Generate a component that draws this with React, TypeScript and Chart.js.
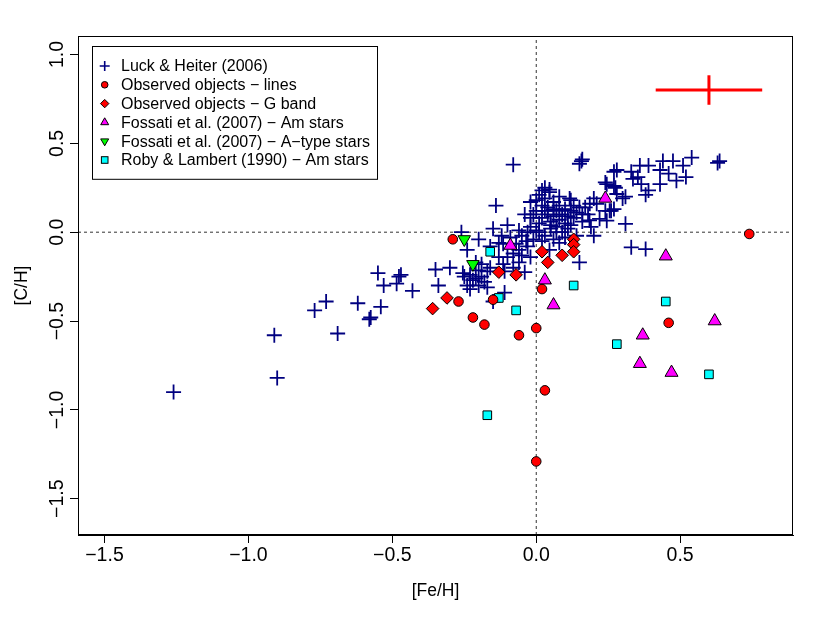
import { useEffect, useRef } from 'react';
import { Chart, registerables } from 'chart.js';

Chart.register(...registerables);

const FONT = "'Liberation Sans', Arial, Helvetica, sans-serif";

// axis settings
const xTicks = [-1.5, -1.0, -0.5, 0.0, 0.5];
const yTicks = [-1.5, -1.0, -0.5, 0.0, 0.5, 1.0];
const xLimits = [-1.592, 0.892];
const yLimits = [-1.704, 1.104];
const xTitle = '[Fe/H]';
const yTitle = '[C/H]';

// Luck & Heiter (2006)  [Fe/H], [C/H]
const luckHeiter: [number, number][] = [
  [-1.26, -0.9], [-0.91, -0.58], [-0.9, -0.82], [-0.77, -0.44], [-0.73, -0.39], [-0.69, -0.57],
  [-0.62, -0.4], [-0.58, -0.49], [-0.575, -0.48], [-0.55, -0.23], [-0.54, -0.42], [-0.53, -0.3],
  [-0.485, -0.29], [-0.477, -0.25], [-0.47, -0.24], [-0.43, -0.33],
  [-0.35, -0.21], [-0.34, -0.3], [-0.3, -0.2], [-0.26, 0.0], [-0.255, -0.23], [-0.24, -0.1],
  [-0.24, -0.3], [-0.23, -0.32], [-0.22, -0.27], [-0.21, -0.17], [-0.2, -0.215], [-0.2, -0.04],
  [-0.25, -0.25], [-0.23, -0.24], [-0.21, -0.26], [-0.19, -0.25], [-0.18, -0.28], [-0.2, -0.3],
  [-0.17, -0.31], [-0.17, -0.22], [-0.16, -0.2], [-0.19, -0.18], [-0.15, -0.39], [-0.11, -0.34],
  [-0.16, -0.08], [-0.15, 0.02], [-0.14, 0.15], [-0.13, -0.14], [-0.13, -0.06], [-0.12, -0.02],
  [-0.115, -0.18], [-0.115, -0.065], [-0.11, -0.22], [-0.1, 0.04], [-0.1, -0.14], [-0.09, -0.03],
  [-0.08, 0.38], [-0.08, -0.12], [-0.08, -0.2], [-0.07, -0.065], [-0.06, 0.01], [-0.06, -0.1],
  [-0.06, -0.17], [-0.05, -0.02], [-0.05, -0.13], [-0.04, -0.225], [-0.04, 0.1], [-0.035, -0.05],
  [-0.03, 0.0], [-0.03, -0.08], [-0.02, 0.17], [-0.02, 0.03], [-0.02, 0.08], [-0.02, -0.14],
  [-0.01, -0.04], [-0.01, 0.1],
  [0.0, 0.01], [0.0, 0.12], [0.0, 0.18], [0.01, 0.21], [0.01, 0.05], [0.01, 0.0], [0.02, 0.235],
  [0.02, 0.08], [0.02, 0.15], [0.02, -0.05], [0.03, 0.25], [0.03, 0.12], [0.03, 0.19], [0.03, -0.02],
  [0.04, 0.1], [0.04, 0.14], [0.046, 0.24], [0.046, 0.225], [0.046, -0.1], [0.05, 0.06], [0.05, 0.02],
  [0.05, 0.04], [0.06, 0.17], [0.06, 0.09], [0.06, 0.13], [0.06, -0.04], [0.07, 0.12], [0.07, 0.03],
  [0.07, 0.0], [0.08, 0.07], [0.08, 0.15], [0.08, 0.2], [0.08, -0.06], [0.09, 0.1], [0.09, 0.0],
  [0.1, 0.05], [0.1, 0.13], [0.1, -0.03], [0.11, 0.09], [0.11, 0.02], [0.116, 0.19], [0.12, 0.18],
  [0.12, 0.12], [0.12, 0.04], [0.13, 0.08], [0.13, 0.15], [0.14, 0.11], [0.14, -0.02], [0.15, 0.14],
  [0.15, -0.17], [0.16, 0.1], [0.16, 0.06], [0.17, 0.14], [0.18, 0.1], [0.185, 0.066], [0.186, 0.16],
  [0.19, 0.03], [0.2, 0.19], [0.2, -0.02], [0.21, 0.16], [0.22, 0.075], [0.24, 0.12], [0.245, 0.065],
  [0.255, 0.12], [0.26, 0.12], [0.27, 0.13],
  [0.15, 0.385], [0.157, 0.4], [0.16, 0.41], [0.24, 0.28], [0.245, 0.27], [0.27, 0.34], [0.27, 0.26],
  [0.275, 0.25], [0.28, 0.35], [0.28, 0.215], [0.3, 0.19], [0.31, 0.2], [0.31, 0.047], [0.33, 0.34],
  [0.33, -0.085], [0.336, 0.3], [0.353, 0.31], [0.36, 0.375], [0.365, 0.27], [0.38, 0.21],
  [0.38, -0.095], [0.39, 0.375], [0.39, 0.235], [0.43, 0.35], [0.43, 0.27], [0.44, 0.4], [0.46, 0.33],
  [0.475, 0.4], [0.487, 0.29], [0.51, 0.375], [0.52, 0.31], [0.54, 0.42], [0.63, 0.39], [0.637, 0.4],
];

// Observed objects - lines
const observedLines: [number, number][] = [
  [-0.29, -0.04], [-0.27, -0.39], [-0.22, -0.48], [-0.18, -0.52], [-0.15, -0.38], [-0.06, -0.58],
  [0.0, -0.54], [0.02, -0.32], [0.03, -0.89], [0.0, -1.29], [0.46, -0.51], [0.74, -0.01],
];

// Observed objects - G band
const observedGBand: [number, number][] = [
  [-0.36, -0.43], [-0.31, -0.37], [-0.13, -0.225], [-0.07, -0.24], [0.02, -0.11], [0.04, -0.17],
  [0.09, -0.13], [0.13, -0.04], [0.13, -0.07], [0.13, -0.11],
];

// Fossati et al. (2007) - Am stars
const fossatiAm: [number, number][] = [
  [-0.09, -0.075], [0.24, 0.19], [0.03, -0.27], [0.06, -0.41], [0.37, -0.58], [0.36, -0.74],
  [0.47, -0.79], [0.62, -0.5], [0.45, -0.135],
];

// Fossati et al. (2007) - A-type stars
const fossatiA: [number, number][] = [
  [-0.25, -0.04], [-0.22, -0.18],
];

// Roby & Lambert (1990) - Am stars
const robyLambert: [number, number][] = [
  [-0.16, -0.11], [0.13, -0.3], [-0.13, -0.37], [-0.07, -0.44], [-0.17, -1.03], [0.28, -0.63],
  [0.45, -0.39], [0.6, -0.8],
];

// typical error bar
const errorCenter = [0.6, 0.8];
const errorHalf = [0.185, 0.083];

const legendLabels = [
  'Luck & Heiter (2006)',
  'Observed objects − lines',
  'Observed objects − G band',
  'Fossati et al. (2007) − Am stars',
  'Fossati et al. (2007) − A−type stars',
  'Roby & Lambert (1990) − Am stars',
];

const toPts = (arr: [number, number][]) => arr.map(([x, y]) => ({ x, y }));

const fmt = (v: number | string) => {
  const n = Number(v);
  return (n < 0 ? '−' : '') + Math.abs(n).toFixed(1);
};

const boxPlugin = {
  id: 'rbox',
  afterDraw(chart: any) {
    const { ctx, chartArea: ca } = chart;
    ctx.save();
    ctx.strokeStyle = '#000';
    ctx.lineWidth = 1;
    ctx.strokeRect(Math.round(ca.left) + 0.5, Math.round(ca.top) + 0.5, Math.round(ca.right - ca.left) - 1, Math.round(ca.bottom - ca.top) - 1);

    // legend
    const lx = Math.round(ca.left) + 14;
    const ly = Math.round(ca.top) + 10;
    ctx.font = `16px ${FONT}`;
    const rowH = 18.8;
    const textX = lx + 29;
    let maxW = 0;
    legendLabels.forEach((t) => { maxW = Math.max(maxW, ctx.measureText(t).width); });
    const w = 29 + maxW + 7;
    const h = rowH * 6 + 20;
    ctx.fillStyle = '#fff';
    ctx.fillRect(lx + 0.5, ly + 0.5, w, h);
    ctx.strokeStyle = '#000';
    ctx.strokeRect(lx + 0.5, ly + 0.5, w, h);
    const sx = lx + 12.7;
    legendLabels.forEach((t, i) => {
      const cy = ly + 20 + i * rowH;
      ctx.fillStyle = '#000';
      ctx.textBaseline = 'middle';
      ctx.textAlign = 'left';
      ctx.fillText(t, textX, cy + 1);
      ctx.lineWidth = 1;
      ctx.strokeStyle = '#000';
      if (i === 0) {
        ctx.strokeStyle = '#000080';
        ctx.lineWidth = 1.6;
        ctx.beginPath();
        ctx.moveTo(sx - 5, cy); ctx.lineTo(sx + 5, cy);
        ctx.moveTo(sx, cy - 5); ctx.lineTo(sx, cy + 5);
        ctx.stroke();
      } else if (i === 1) {
        ctx.fillStyle = '#ff0000';
        ctx.beginPath(); ctx.arc(sx, cy, 3.3, 0, Math.PI * 2); ctx.fill(); ctx.stroke();
      } else if (i === 2) {
        ctx.fillStyle = '#ff0000';
        ctx.beginPath();
        ctx.moveTo(sx, cy - 4.2); ctx.lineTo(sx + 4.2, cy); ctx.lineTo(sx, cy + 4.2); ctx.lineTo(sx - 4.2, cy);
        ctx.closePath(); ctx.fill(); ctx.stroke();
      } else if (i === 3 || i === 4) {
        ctx.fillStyle = i === 3 ? '#ff00ff' : '#00ff00';
        const r = 4.6;
        const d = i === 3 ? 1 : -1;
        ctx.beginPath();
        ctx.moveTo(sx, cy - d * r);
        ctx.lineTo(sx + r * 0.866, cy + d * r * 0.5);
        ctx.lineTo(sx - r * 0.866, cy + d * r * 0.5);
        ctx.closePath(); ctx.fill(); ctx.stroke();
      } else {
        ctx.fillStyle = '#00ffff';
        ctx.fillRect(sx - 3.3, cy - 3.3, 6.6, 6.6);
        ctx.strokeRect(sx - 3.3, cy - 3.3, 6.6, 6.6);
      }
    });
    ctx.restore();
  },
};

export default function App() {
  const ref = useRef<HTMLCanvasElement | null>(null);

  useEffect(() => {
    if (!ref.current) return;
    const filled = (data: [number, number][], style: string, color: string, radius: number, order: number, rotation = 0) => ({
      data: toPts(data),
      pointStyle: style,
      pointRadius: radius,
      pointHoverRadius: radius,
      pointRotation: rotation,
      pointBackgroundColor: color,
      pointBorderColor: '#000',
      pointBorderWidth: 1,
      showLine: false,
      order,
    });

    const chart = new Chart(ref.current, {
      type: 'scatter',
      data: {
        datasets: [
          {
            data: [
              { x: xLimits[0], y: 0 },
              { x: xLimits[1], y: 0 },
            ],
            showLine: true,
            borderColor: '#333',
            borderWidth: 1,
            borderDash: [3, 3],
            pointRadius: 0,
            order: 20,
          } as any,
          {
            data: [
              { x: 0, y: yLimits[0] },
              { x: 0, y: yLimits[1] },
            ],
            showLine: true,
            borderColor: '#333',
            borderWidth: 1,
            borderDash: [3, 3],
            pointRadius: 0,
            order: 19,
          } as any,
          {
            data: toPts(luckHeiter),
            pointStyle: 'cross',
            pointRadius: 7.5,
            pointHoverRadius: 7.5,
            pointBorderColor: '#000080',
            pointBackgroundColor: '#000080',
            pointBorderWidth: 1.8,
            showLine: false,
            order: 10,
          } as any,
          filled(robyLambert, 'rect', '#00ffff', 6.1, 8),
          filled(fossatiA, 'triangle', '#00ff00', 7.2, 7, 180),
          filled(fossatiAm, 'triangle', '#ff00ff', 7.5, 6),
          filled(observedGBand, 'rectRot', '#ff0000', 6.3, 5),
          filled(observedLines, 'circle', '#ff0000', 4.8, 4),
          {
            data: [
              { x: errorCenter[0] - errorHalf[0], y: errorCenter[1] },
              { x: errorCenter[0] + errorHalf[0], y: errorCenter[1] },
            ],
            showLine: true,
            borderColor: '#ff0000',
            borderWidth: 3,
            pointRadius: 0,
            order: 1,
          } as any,
          {
            data: [
              { x: errorCenter[0], y: errorCenter[1] - errorHalf[1] },
              { x: errorCenter[0], y: errorCenter[1] + errorHalf[1] },
            ],
            showLine: true,
            borderColor: '#ff0000',
            borderWidth: 3,
            pointRadius: 0,
            order: 1,
          } as any,
        ],
      },
      options: {
        animation: false,
        responsive: false,
        events: [],
        layout: { padding: { left: 0, right: 37, top: 36, bottom: 0 } },
        plugins: { legend: { display: false }, tooltip: { enabled: false } },
        scales: {
          x: {
            type: 'linear',
            min: xLimits[0],
            max: xLimits[1],
            afterBuildTicks: (s: any) => { s.ticks = xTicks.map((v) => ({ value: v })); },
            afterFit: (s: any) => { s.height = 88; },
            ticks: {
              color: '#000',
              font: { family: FONT, size: 19.5 },
              padding: 1,
              maxRotation: 0,
              autoSkip: false,
              callback: (v: any) => fmt(v),
            },
            grid: { drawOnChartArea: false, drawTicks: true, tickLength: 8, color: '#000' },
            border: { display: true, color: '#000', width: 1 },
            title: {
              display: true,
              text: xTitle,
              color: '#000',
              font: { family: FONT, size: 17.5 },
              padding: { top: 0, bottom: 21 },
            },
          },
          y: {
            type: 'linear',
            min: yLimits[0],
            max: yLimits[1],
            afterBuildTicks: (s: any) => { s.ticks = yTicks.map((v) => ({ value: v })); },
            afterFit: (s: any) => { s.width = 78; },
            ticks: {
              color: '#000',
              font: { family: FONT, size: 19.5 },
              padding: -7,
              minRotation: 90,
              maxRotation: 90,
              crossAlign: 'center',
              autoSkip: false,
              callback: (v: any) => fmt(v),
            },
            grid: { drawOnChartArea: false, drawTicks: true, tickLength: 8, color: '#000' },
            border: { display: true, color: '#000', width: 1 },
            title: {
              display: true,
              text: yTitle,
              color: '#000',
              font: { family: FONT, size: 17.5 },
              padding: { top: 12, bottom: 0 },
            },
          },
        },
      } as any,
      plugins: [boxPlugin],
    });
    return () => chart.destroy();
  }, []);

  return (
    <div style={{ position: 'absolute', left: 0, top: 0, width: 830, height: 623, background: '#fff' }}>
      <canvas ref={ref} width={830} height={623} style={{ display: 'block' }} />
    </div>
  );
}
